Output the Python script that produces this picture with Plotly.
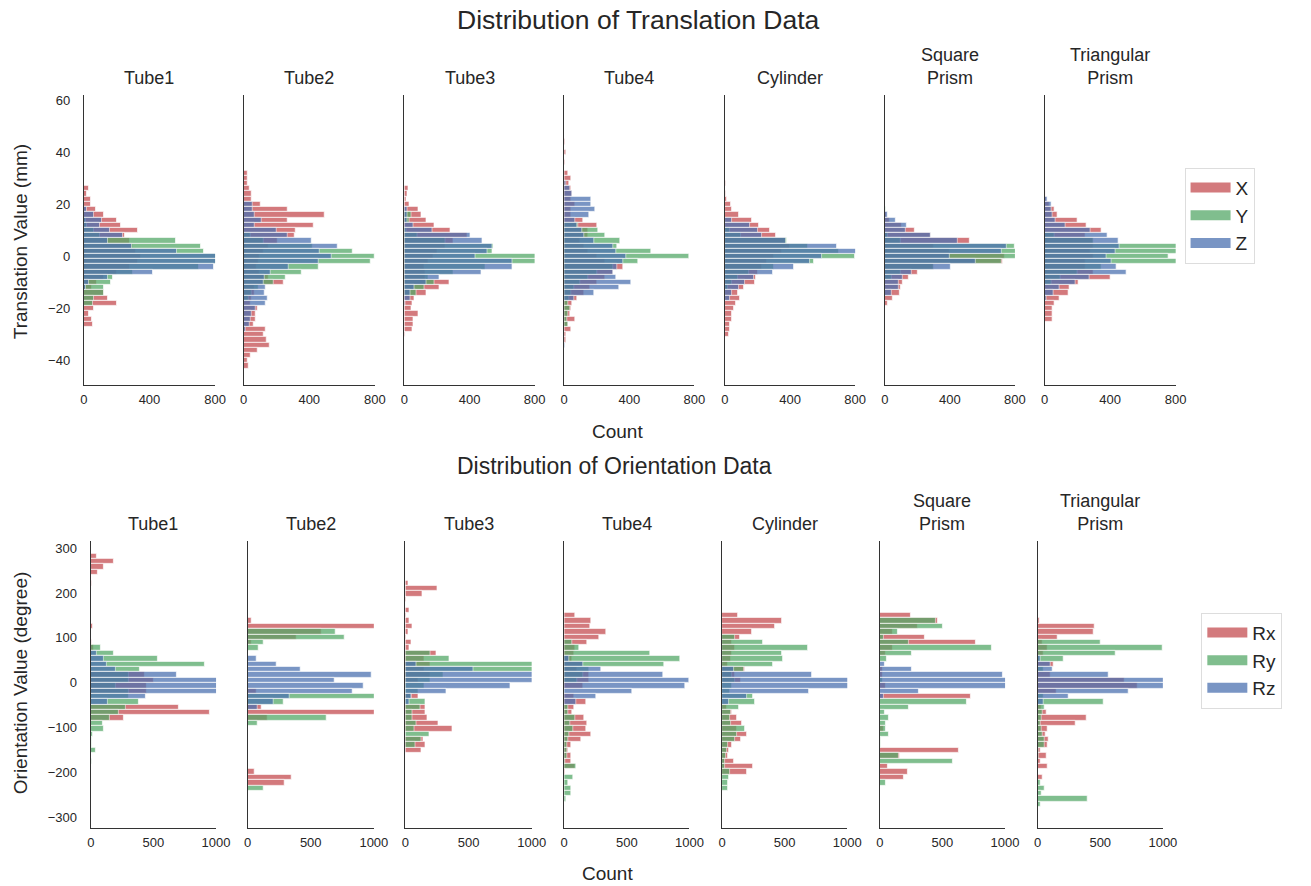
import plotly.graph_objects as go

W, H = 1311, 886
FONT = "Liberation Sans, Arial, sans-serif"
TXT = "#262626"

SHAPES = ["Tube1", "Tube2", "Tube3", "Tube4", "Cylinder", "Square<br>Prism", "Triangular<br>Prism"]
TRANS_NAMES = ["X", "Y", "Z"]
ORIENT_NAMES = ["Rx", "Ry", "Rz"]
COLORS = ["#C44E52", "#55A868", "#4C72B0"]

TRANS_BIN = 2      # mm
ORIENT_BIN = 12    # degree
TRANS_XTICKS = [0, 400, 800]
TRANS_YTICKS = [-40, -20, 0, 20, 40, 60]
ORIENT_XTICKS = [0, 500, 1000]
ORIENT_YTICKS = [-300, -200, -100, 0, 100, 200, 300]

# ---------------- Translation data (counts per 2 mm bin, listed from top bin downward) -------------
TUBE1_T_TOP = 26
TUBE1_TX = [30, 20, 44, 40, 74, 120, 204, 228, 332, 250, 280, 300, 320, 350, 330, 280, 200, 120, 80, 50, 120, 148, 200, 60, 32, 48, 56]
TUBE1_TY = [0, 0, 0, 0, 0, 0, 10, 20, 60, 100, 564, 712, 734, 850, 820, 700, 300, 174, 164, 124, 120, 64, 54, 0, 0, 0, 0]
TUBE1_TZ = [0, 0, 0, 0, 20, 60, 112, 96, 160, 240, 146, 290, 568, 830, 830, 790, 422, 144, 30, 10, 0, 0, 0, 0, 0, 0, 0]

TUBE2_T_TOP = 32
TUBE2_TX = [22, 26, 22, 38, 50, 46, 102, 266, 496, 268, 426, 318, 308, 206, 150, 120, 100, 90, 80, 100, 150, 242, 70, 66, 50, 40, 88, 72, 72, 62, 136, 122, 142, 156, 84, 40, 26, 28]
TUBE2_TY = [0, 0, 0, 0, 0, 0, 0, 0, 0, 0, 0, 0, 40, 120, 420, 666, 796, 772, 456, 352, 258, 182, 90, 50, 30, 0, 0, 0, 0, 0, 0, 0, 0, 0, 0, 0, 0, 0]
TUBE2_TZ = [0, 0, 0, 0, 0, 0, 52, 52, 66, 108, 66, 202, 266, 416, 572, 466, 538, 456, 276, 166, 126, 120, 132, 126, 144, 132, 74, 50, 42, 34, 14, 0, 0, 0, 0, 0, 0, 0]

TUBE3_T_TOP = 26
TUBE3_TX = [24, 20, 12, 28, 84, 104, 136, 184, 280, 388, 300, 250, 200, 180, 150, 120, 130, 130, 274, 214, 138, 64, 52, 44, 88, 56, 56, 52, 4]
TUBE3_TY = [0, 0, 0, 0, 0, 40, 30, 0, 10, 80, 250, 548, 540, 810, 810, 500, 300, 150, 184, 124, 74, 0, 0, 0, 0, 0, 0, 0, 0]
TUBE3_TZ = [0, 0, 0, 0, 16, 16, 20, 58, 170, 404, 478, 540, 512, 438, 664, 664, 472, 218, 134, 64, 34, 34, 6, 0, 0, 0, 0, 0, 0]

TUBE4_T_TOP = 44
TUBE4_TX = [4, 0, 10, 0, 6, 0, 22, 42, 30, 46, 50, 40, 70, 40, 40, 118, 200, 150, 150, 100, 120, 150, 200, 250, 362, 300, 250, 200, 160, 120, 80, 50, 42, 36, 68, 26, 46, 12, 14, 0]
TUBE4_TY = [0, 0, 0, 0, 0, 0, 0, 0, 0, 0, 0, 0, 0, 0, 0, 0, 86, 210, 250, 346, 324, 532, 766, 452, 300, 200, 150, 100, 60, 40, 30, 26, 36, 26, 16, 26, 0, 0, 0, 0]
TUBE4_TZ = [0, 0, 0, 0, 0, 0, 0, 0, 10, 36, 50, 168, 168, 188, 156, 70, 80, 108, 120, 186, 300, 320, 380, 362, 326, 300, 322, 414, 340, 186, 60, 0, 0, 0, 0, 0, 0, 0, 0, 6]

CYL_T_TOP = 28
CYL_TX = [8, 0, 8, 12, 36, 44, 88, 164, 208, 278, 314, 374, 400, 350, 300, 260, 230, 200, 190, 184, 116, 80, 90, 68, 56, 44, 40, 30, 28, 22]
CYL_TY = [0, 0, 0, 0, 0, 0, 0, 0, 0, 30, 100, 380, 510, 700, 796, 548, 300, 150, 80, 40, 20, 0, 0, 0, 0, 0, 0, 0, 0, 0]
CYL_TZ = [0, 0, 0, 0, 0, 0, 0, 40, 156, 200, 230, 372, 690, 810, 596, 520, 422, 296, 176, 124, 84, 40, 30, 0, 0, 0, 0, 0, 0, 0]

SQ_T_TOP = 18
SQ_TX = [0, 10, 30, 106, 186, 280, 520, 300, 400, 738, 726, 300, 200, 150, 110, 96, 92, 50, 18]
SQ_TY = [6, 0, 0, 0, 0, 20, 100, 800, 810, 810, 716, 300, 100, 40, 0, 0, 0, 0, 0]
SQ_TZ = [0, 18, 70, 136, 126, 280, 450, 752, 716, 402, 562, 406, 166, 110, 88, 86, 40, 0, 0]

TRI_T_TOP = 24
TRI_TX = [8, 10, 30, 64, 78, 204, 254, 350, 250, 300, 300, 280, 300, 250, 250, 300, 404, 208, 150, 148, 90, 58, 48, 48, 48]
TRI_TY = [0, 0, 0, 0, 0, 0, 0, 0, 60, 300, 810, 810, 758, 810, 350, 200, 100, 40, 0, 0, 0, 0, 0, 0, 0]
TRI_TZ = [0, 20, 44, 44, 48, 68, 128, 280, 384, 450, 460, 434, 380, 408, 440, 500, 274, 190, 90, 54, 10, 0, 0, 0, 0]

# ---------------- Orientation data (counts per 12 degree bin, listed from top bin downward) ---------
TUBE1_O_TOP = 282
TUBE1_RX = [45, 180, 105, 55, 0, 10, 0, 0, 0, 0, 0, 0, 0, 13, 0, 0, 5, 20, 0, 0, 0, 0, 430, 500, 450, 450, 0, 0, 705, 954, 265, 0, 0, 0, 0, 0, 0, 0, 0]
TUBE1_RY = [0, 0, 0, 0, 0, 0, 0, 0, 0, 0, 0, 0, 0, 0, 0, 0, 0, 76, 180, 537, 909, 390, 300, 300, 200, 300, 300, 385, 280, 223, 149, 97, 107, 18, 8, 8, 39, 0, 5]
TUBE1_RZ = [0, 0, 0, 0, 0, 0, 0, 0, 0, 0, 0, 0, 0, 0, 0, 0, 0, 0, 45, 102, 131, 196, 686, 1050, 1050, 1050, 437, 136, 0, 0, 0, 0, 0, 0, 0, 0, 0, 0, 0]

TUBE2_O_TOP = 138
TUBE2_RX = [34, 1050, 589, 390, 30, 0, 0, 0, 0, 0, 0, 0, 0, 70, 0, 0, 114, 1050, 158, 0, 0, 0, 0, 0, 0, 0, 0, 0, 55, 351, 290, 0]
TUBE2_RY = [0, 0, 694, 766, 124, 90, 0, 0, 0, 0, 0, 0, 0, 0, 1050, 285, 0, 0, 623, 82, 0, 0, 0, 0, 0, 0, 0, 0, 0, 0, 0, 127]
TUBE2_RZ = [0, 0, 0, 0, 0, 0, 0, 71, 232, 417, 985, 686, 919, 834, 330, 206, 79, 0, 0, 0, 0, 0, 0, 0, 0, 0, 0, 0, 0, 0, 0, 0]

TUBE3_O_TOP = 222
TUBE3_RX = [26, 254, 136, 10, 0, 31, 5, 31, 58, 21, 10, 50, 31, 249, 150, 200, 150, 200, 100, 0, 0, 100, 0, 155, 155, 176, 259, 372, 0, 141, 162, 128]
TUBE3_RY = [0, 0, 0, 0, 0, 0, 0, 0, 0, 0, 0, 0, 0, 200, 346, 1050, 1050, 300, 200, 150, 100, 50, 155, 118, 52, 58, 84, 71, 189, 123, 76, 0]
TUBE3_RZ = [0, 0, 0, 0, 0, 0, 0, 0, 0, 0, 0, 0, 0, 0, 0, 89, 542, 1050, 1050, 830, 327, 50, 31, 0, 0, 0, 0, 0, 0, 0, 0, 0]

TUBE4_O_TOP = 150
TUBE4_RX = [87, 214, 206, 333, 277, 187, 90, 80, 60, 150, 100, 200, 200, 150, 0, 80, 172, 79, 61, 158, 180, 174, 214, 132, 53, 34, 53, 55, 87, 5, 0, 0, 0, 0, 0]
TUBE4_RY = [0, 0, 0, 0, 0, 60, 116, 686, 924, 800, 200, 150, 100, 0, 0, 0, 0, 30, 30, 87, 50, 74, 40, 30, 20, 20, 20, 10, 92, 0, 69, 34, 53, 55, 13]
TUBE4_RZ = [0, 0, 0, 0, 0, 0, 0, 0, 40, 153, 298, 787, 998, 964, 541, 259, 95, 0, 0, 0, 0, 0, 0, 0, 0, 0, 0, 0, 0, 0, 0, 0, 0, 0, 0]

CYL_O_TOP = 150
CYL_RX = [131, 477, 424, 241, 144, 80, 100, 80, 70, 50, 183, 100, 150, 0, 0, 0, 0, 40, 79, 118, 157, 118, 202, 152, 79, 58, 47, 97, 244, 197, 0, 0, 0]
CYL_RY = [0, 0, 0, 0, 100, 328, 686, 477, 490, 411, 176, 80, 100, 80, 60, 244, 262, 136, 73, 60, 70, 181, 120, 100, 50, 40, 30, 20, 20, 60, 58, 45, 47]
CYL_RZ = [0, 0, 0, 0, 0, 0, 0, 0, 0, 0, 92, 720, 1050, 1050, 694, 197, 52, 0, 0, 0, 0, 0, 0, 0, 0, 0, 0, 0, 0, 0, 0, 0, 0]

SQ_O_TOP = 150
SQ_RX = [245, 466, 300, 100, 360, 765, 100, 50, 0, 0, 20, 20, 0, 50, 0, 728, 0, 0, 0, 0, 0, 30, 0, 0, 0, 631, 163, 0, 66, 224, 189, 0]
SQ_RY = [0, 447, 505, 145, 30, 231, 894, 258, 53, 0, 0, 0, 20, 0, 0, 0, 692, 231, 39, 71, 45, 45, 74, 10, 10, 0, 153, 579, 0, 0, 0, 50]
SQ_RZ = [0, 0, 0, 0, 0, 0, 0, 0, 0, 39, 255, 978, 1050, 1050, 308, 30, 0, 0, 0, 0, 0, 0, 0, 0, 0, 0, 0, 0, 0, 0, 0, 0]

TRI_O_TOP = 138
TRI_RX = [18, 453, 448, 157, 42, 80, 50, 0, 126, 0, 100, 694, 799, 150, 0, 0, 30, 73, 388, 304, 81, 60, 84, 76, 26, 73, 26, 79, 0, 39, 0, 0, 0, 0, 0]
TRI_RY = [0, 0, 0, 0, 503, 1000, 624, 210, 0, 50, 0, 0, 0, 0, 50, 527, 52, 40, 30, 20, 30, 40, 52, 52, 10, 10, 0, 0, 0, 0, 21, 58, 31, 401, 21]
TRI_RZ = [0, 0, 0, 0, 0, 0, 0, 26, 102, 118, 566, 1050, 1050, 728, 246, 45, 0, 0, 0, 0, 0, 0, 0, 0, 0, 0, 0, 0, 0, 0, 0, 0, 0, 0, 0]

TRANS_PANELS = [
    (TUBE1_T_TOP, TUBE1_TX, TUBE1_TY, TUBE1_TZ),
    (TUBE2_T_TOP, TUBE2_TX, TUBE2_TY, TUBE2_TZ),
    (TUBE3_T_TOP, TUBE3_TX, TUBE3_TY, TUBE3_TZ),
    (TUBE4_T_TOP, TUBE4_TX, TUBE4_TY, TUBE4_TZ),
    (CYL_T_TOP, CYL_TX, CYL_TY, CYL_TZ),
    (SQ_T_TOP, SQ_TX, SQ_TY, SQ_TZ),
    (TRI_T_TOP, TRI_TX, TRI_TY, TRI_TZ),
]
ORIENT_PANELS = [
    (TUBE1_O_TOP, TUBE1_RX, TUBE1_RY, TUBE1_RZ),
    (TUBE2_O_TOP, TUBE2_RX, TUBE2_RY, TUBE2_RZ),
    (TUBE3_O_TOP, TUBE3_RX, TUBE3_RY, TUBE3_RZ),
    (TUBE4_O_TOP, TUBE4_RX, TUBE4_RY, TUBE4_RZ),
    (CYL_O_TOP, CYL_RX, CYL_RY, CYL_RZ),
    (SQ_O_TOP, SQ_RX, SQ_RY, SQ_RZ),
    (TRI_O_TOP, TRI_RX, TRI_RY, TRI_RZ),
]

# ---------------- layout geometry (pixels) ----------------
TOP_X = [(81, 214), (243, 376), (406, 538), (568, 700), (731, 863), (893, 1025), (1055, 1188)]
BOT_X = [(88, 215), (247, 375), (407, 535), (568, 695), (728, 855), (888, 1015), (1048, 1175)]
TOP_Y = (93, 384)
BOT_Y = (540, 828)
TOP_RANGE_Y = [-49.4, 62.0]
BOT_RANGE_Y = [-323, 316]
TOP_RANGE_X = [0, 800]
BOT_RANGE_X = [0, 1000]


def xd(a, b):
    return [a / W, b / W]


def yd(top, bot):
    return [1 - bot / H, 1 - top / H]


fig = go.Figure()
layout = {}
annotations = []

ax = 0
for row, (panels, binw, names, xdom, ydom, xr, yr, xt, yt, legend) in enumerate([
    (TRANS_PANELS, TRANS_BIN, TRANS_NAMES, TOP_X, TOP_Y, TOP_RANGE_X, TOP_RANGE_Y, TRANS_XTICKS, TRANS_YTICKS, "legend"),
    (ORIENT_PANELS, ORIENT_BIN, ORIENT_NAMES, BOT_X, BOT_Y, BOT_RANGE_X, BOT_RANGE_Y, ORIENT_XTICKS, ORIENT_YTICKS, "legend2"),
]):
    for col, (top, sx, sy, sz) in enumerate(panels):
        ax += 1
        suffix = "" if ax == 1 else str(ax)
        for si, series in enumerate([sx, sy, sz]):
            centers = [top - binw * i for i in range(len(series))]
            xs = [v for v in series if v > 0]
            ys = [c for c, v in zip(centers, series) if v > 0]
            fig.add_trace(go.Bar(
                x=xs, y=ys, orientation="h", width=binw,
                marker=dict(color=COLORS[si], line=dict(color="rgba(255,255,255,0.85)", width=0.8)),
                opacity=0.75, showlegend=False, name=names[si],
                xaxis="x" + suffix, yaxis="y" + suffix,
            ))
        layout["xaxis" + suffix] = dict(
            domain=xd(*xdom[col]), range=xr, anchor="y" + suffix,
            showline=True, linecolor="#333333", linewidth=1.3, showgrid=False, zeroline=False,
            tickvals=xt, ticks="outside", ticklen=2, tickcolor="rgba(0,0,0,0)",
            tickfont=dict(size=13, color=TXT, family=FONT),
            fixedrange=True,
        )
        layout["yaxis" + suffix] = dict(
            domain=yd(*ydom), range=yr, anchor="x" + suffix,
            showline=True, linecolor="#333333", linewidth=1.3, showgrid=False, zeroline=False,
            tickvals=yt, ticks="outside", ticklen=10, tickcolor="rgba(0,0,0,0)",
            showticklabels=(col == 0), tickfont=dict(size=13, color=TXT, family=FONT),
            fixedrange=True,
        )
        cx = (xdom[col][0] + xdom[col][1]) / 2 / W
        annotations.append(dict(
            text=SHAPES[col], x=cx, y=1 - (ydom[0] - 5) / H, xref="paper", yref="paper",
            xanchor="center", yanchor="bottom", showarrow=False,
            font=dict(size=18, color=TXT, family=FONT),
        ))
    # legend entries (wide swatches)
    for si, nm in enumerate(names):
        fig.add_trace(go.Scatter(
            x=[None], y=[None], mode="lines", name=nm,
            line=dict(color=COLORS[si], width=14), opacity=0.75,
            legend=legend, showlegend=True, xaxis="x", yaxis="y",
        ))

# Titles and axis labels
annotations += [
    dict(text="Distribution of Translation Data", x=643 / W, y=1 - 18 / H, font=dict(size=26.5, color=TXT, family=FONT)),
    dict(text="Distribution of Orientation Data", x=619 / W, y=1 - 465 / H, font=dict(size=23, color=TXT, family=FONT)),
    dict(text="Count", x=622 / W, y=1 - 430 / H, font=dict(size=19, color=TXT, family=FONT)),
    dict(text="Count", x=612 / W, y=1 - 873 / H, font=dict(size=19, color=TXT, family=FONT)),
    dict(text="Translation Value (mm)", x=17 / W, y=1 - 240 / H, textangle=-90, font=dict(size=19, color=TXT, family=FONT)),
    dict(text="Orientation Value (degree)", x=17 / W, y=1 - 682 / H, textangle=-90, font=dict(size=19, color=TXT, family=FONT)),
]
for a in annotations[-6:]:
    a.update(xref="paper", yref="paper", xanchor="center", yanchor="middle", showarrow=False)

legend_common = dict(
    bgcolor="white", bordercolor="#dddddd", borderwidth=1,
    font=dict(size=19, color=TXT, family=FONT), xanchor="left", yanchor="top",
    tracegroupgap=0, itemwidth=40,
)
layout["legend"] = dict(x=1197 / W, y=1 - 166 / H, **legend_common)
layout["legend2"] = dict(x=1214 / W, y=1 - 612 / H, **legend_common)

fig.update_layout(
    width=W, height=H, margin=dict(l=0, r=0, t=0, b=0),
    paper_bgcolor="white", plot_bgcolor="white",
    barmode="overlay", bargap=0, font=dict(family=FONT, color=TXT),
    annotations=annotations, **layout,
)

fig.write_html("out.html")
